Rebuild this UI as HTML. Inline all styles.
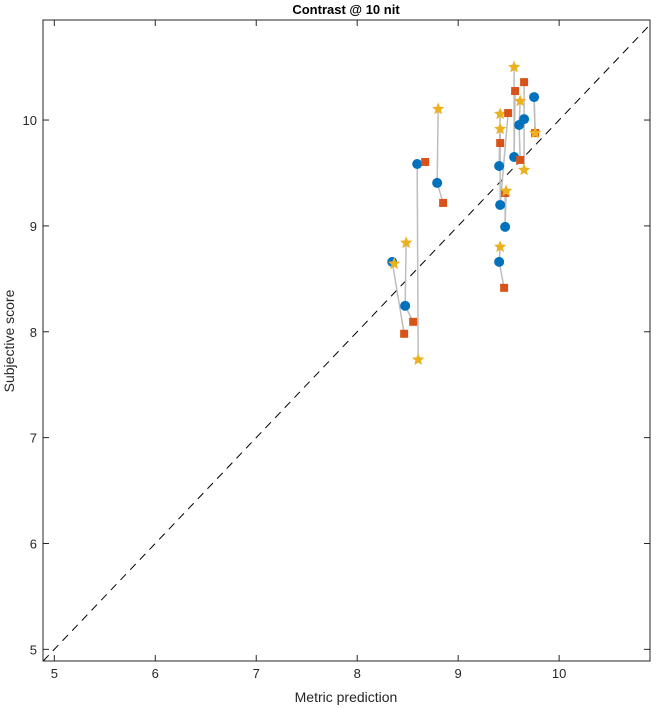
<!DOCTYPE html>
<html><head><meta charset="utf-8"><style>
body{margin:0;background:#fff;}
svg{display:block;font-family:"Liberation Sans",sans-serif;}
</style></head><body>
<svg id="chart" width="656" height="708">
<rect x="0" y="0" width="656" height="708" fill="#fff"/>
</svg>
<script>
const xTicks=[5,6,7,8,9,10];
const yTicks=[5,6,7,8,9,10];
const circleX=[8.347,8.475,8.594,8.792,9.406,9.416,9.406,9.465,9.554,9.604,9.653,9.752];
const circleY=[8.660,8.245,9.585,9.406,9.566,9.198,8.660,8.991,9.651,9.953,10.009,10.217];
const squareX=[8.465,8.554,8.673,8.851,9.416,9.495,9.455,9.465,9.564,9.614,9.653,9.762];
const squareY=[7.981,8.094,9.604,9.217,9.783,10.066,8.415,9.311,10.274,9.623,10.358,9.877];
const starX=[8.366,8.485,8.604,8.802,9.416,9.416,9.416,9.475,9.554,9.614,9.653,9.762];
const starY=[8.642,8.840,7.736,10.104,10.057,9.915,8.802,9.330,10.500,10.179,9.528,9.877];
const L=43,R=650,T=20,B=661,xmin=4.888,xmax=10.90,ymin=4.89,ymax=10.945;
const sx=v=>L+(v-xmin)/(xmax-xmin)*(R-L);
const sy=v=>B-(v-ymin)/(ymax-ymin)*(B-T);
const NS="http://www.w3.org/2000/svg";
const svg=document.getElementById('chart');
function mk(tag,attrs,parent){const e=document.createElementNS(NS,tag);for(const k in attrs)e.setAttribute(k,attrs[k]);(parent||svg).appendChild(e);return e;}
const lo=Math.max(xmin,ymin),hi=Math.min(xmax,ymax);
let d=mk('line',{x1:sx(lo),y1:sy(lo),x2:sx(hi),y2:sy(hi),stroke:'#000','stroke-width':1,'stroke-dasharray':'8,6'});


for(let i=0;i<circleX.length;i++){
 let a=mk('line',{x1:sx(circleX[i]),y1:sy(circleY[i]),x2:sx(squareX[i]),y2:sy(squareY[i]),stroke:'#bdbdbd','stroke-width':1.5});
 
 
 let b=mk('line',{x1:sx(circleX[i]),y1:sy(circleY[i]),x2:sx(starX[i]),y2:sy(starY[i]),stroke:'#bdbdbd','stroke-width':1.5});
 
 
}
function starPts(cx,cy,r){let p=[];for(let k=0;k<10;k++){const rr=k%2?r*0.45:r;const a=-Math.PI/2+k*Math.PI/5;p.push((cx+rr*Math.cos(a)).toFixed(1)+','+(cy+rr*Math.sin(a)).toFixed(1));}return p.join(' ');}
for(let i=0;i<circleX.length;i++){
 let c=mk('circle',{cx:sx(circleX[i]),cy:sy(circleY[i]),r:5,fill:'#0072BD'});
 
 
 let s=mk('rect',{x:sx(squareX[i])-4,y:sy(squareY[i])-4,width:8,height:8,fill:'#D95319'});
 
 
 let st=mk('polygon',{points:starPts(sx(starX[i]),sy(starY[i]),6.5),fill:'#EDB120'});
 
 
}
let box=mk('rect',{x:L,y:T,width:R-L,height:B-T,fill:'none',stroke:'#262626','stroke-width':1});


xTicks.forEach(v=>{
 const x=sx(v);
 mk('line',{x1:x,y1:B,x2:x,y2:B-6,stroke:'#262626'});
 mk('line',{x1:x,y1:T,x2:x,y2:T+6,stroke:'#262626'});
 let t=mk('text',{x:x,y:B+17,'text-anchor':'middle','font-size':13,fill:'#262626'});
 t.textContent=v;
 
 
});
yTicks.forEach(v=>{
 const y=sy(v);
 mk('line',{x1:L,y1:y,x2:L+6,y2:y,stroke:'#262626'});
 mk('line',{x1:R,y1:y,x2:R-6,y2:y,stroke:'#262626'});
 let t=mk('text',{x:L-6,y:y+5,'text-anchor':'end','font-size':13,fill:'#262626'});
 t.textContent=v;
 
 
});
</script>
<svg style="position:absolute;left:0;top:0" width="656" height="708">
<text x="346" y="14" text-anchor="middle" font-size="13" font-weight="bold" fill="#000" font-family="Liberation Sans, sans-serif">Contrast @ 10 nit</text>
<text x="346" y="702" text-anchor="middle" font-size="14" fill="#262626" font-family="Liberation Sans, sans-serif">Metric prediction</text>
<text x="14" y="341" text-anchor="middle" font-size="14" fill="#262626" font-family="Liberation Sans, sans-serif" transform="rotate(-90 14 341)">Subjective score</text>
</svg>
</body></html>
